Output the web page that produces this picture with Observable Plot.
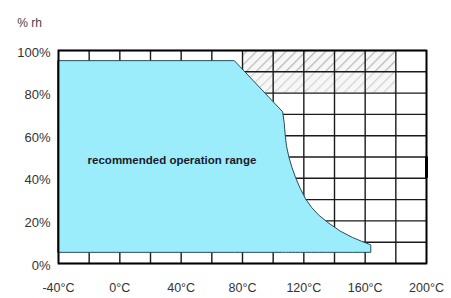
<!DOCTYPE html>
<html>
<head>
<meta charset="utf-8">
<script src="https://cdn.jsdelivr.net/npm/d3@7"></script>
<script src="https://cdn.jsdelivr.net/npm/@observablehq/plot@0.6"></script>
<style>
  html, body { margin: 0; padding: 0; background: #fff; }
  #chart svg { display: block; }
</style>
</head>
<body>
<div id="chart"></div>
<script>
// Boundary of the recommended operation range (temperature °C, relative humidity %)
const temps = [-40, 75, 106.5, 107.5, 108.2, 109, 110.5, 112.5, 115, 118, 121.5, 125.5, 130, 136, 144, 152, 158, 164];
const rhTop = [95, 95, 71, 66, 60, 55, 50, 45, 40, 35, 30, 26, 22.5, 19, 15, 12, 10.2, 8.5];
const rhBottom = 5;

const xTicks = [-40, 0, 40, 80, 120, 160, 200];
const yTicks = [0, 20, 40, 60, 80, 100];
const xGrid = [-40, -20, 0, 20, 40, 60, 80, 100, 120, 140, 160, 180, 200];
const yGrid = [0, 10, 20, 30, 40, 50, 60, 70, 80, 90, 100];

// Hatched (condensation) zone
const hatchTemps = [80, 180];
const hatchRows = [[90, 100], [80, 90]];

const areaData = temps.map((t, i) => ({t, top: rhTop[i], bottom: rhBottom}));
const hatchData = hatchRows.map((r, i) => ({x1: hatchTemps[0], x2: hatchTemps[1], y1: r[0], y2: r[1], fill: i === 0 ? "url(#hatchA)" : "url(#hatchB)"}));

const font = "'Liberation Sans', Arial, sans-serif";

const chart = Plot.plot({
  width: 451,
  height: 298,
  marginLeft: 58,
  marginRight: 25,
  marginTop: 50,
  marginBottom: 35,
  style: {fontFamily: font, background: "#fff", overflow: "visible"},
  x: {domain: [-40, 200]},
  y: {domain: [0, 100]},
  marks: [
    Plot.rect(hatchData, {x1: "x1", x2: "x2", y1: "y1", y2: "y2", fill: "fill"}),
    Plot.ruleX(xGrid, {stroke: "#1a1a1a", strokeWidth: 1.4}),
    Plot.ruleY(yGrid, {stroke: "#1a1a1a", strokeWidth: 1.4}),
    Plot.areaY(areaData, {x: "t", y1: "bottom", y2: "top", fill: "#9CEDFC", stroke: "#2a4b5a", strokeWidth: 1, curve: "linear"}),
    Plot.ruleX([200], {y1: 40, y2: 50, stroke: "#000", strokeWidth: 3}),
    Plot.frame({stroke: "#000", strokeWidth: 1.8}),
    Plot.axisX(xTicks, {tickSize: 0, tickPadding: 20, tickFormat: d => d + "°C", fontSize: 12.5, fill: "#333"}),
    Plot.axisY(yTicks, {tickSize: 0, tickPadding: 8, tickFormat: d => d + "%", fontSize: 13, fill: "#333", dy: 2}),
    Plot.text(["recommended operation range"], {x: 34, y: 48.5, text: d => d, fontSize: 11.5, fontWeight: "bold", fill: "#1a1a2a", textAnchor: "middle"}),
    Plot.text(["% rh"], {frameAnchor: "top-left", dx: -29, dy: -32, text: d => d, fontSize: 12, fill: "#444", textAnchor: "middle"})
  ]
});

// Hatch pattern definitions
const svg = d3.select(chart);
const defs = svg.insert("defs", ":first-child");
[["hatchA", "#b8b8b8"], ["hatchB", "#d4d4d4"]].forEach(([id, col]) => {
  const p = defs.append("pattern")
    .attr("id", id)
    .attr("patternUnits", "userSpaceOnUse")
    .attr("width", 7).attr("height", 7)
    .attr("patternTransform", "rotate(45)");
  p.append("rect").attr("width", 7).attr("height", 7).attr("fill", "#f7f7f7");
  p.append("line").attr("x1", 0).attr("y1", 0).attr("x2", 0).attr("y2", 7)
    .attr("stroke", col).attr("stroke-width", 2.5);
});

document.getElementById("chart").appendChild(chart);
</script>
</body>
</html>
